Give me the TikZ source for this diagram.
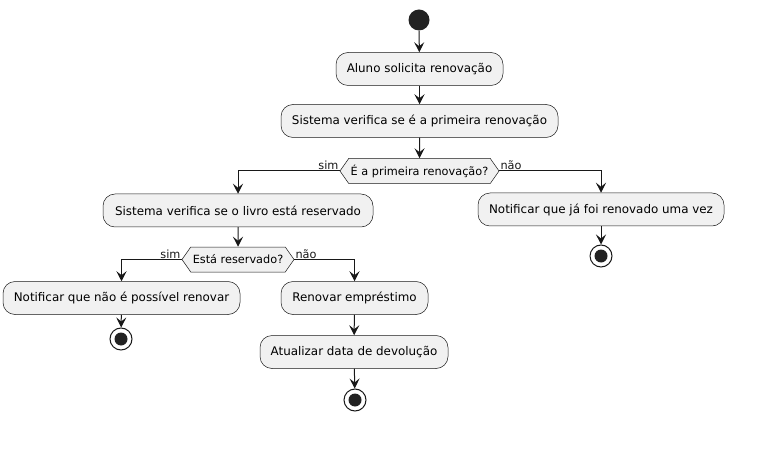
\documentclass[tikz,border=0pt]{standalone}
\usepackage{fontspec}
\setmainfont{DejaVu Sans}
\usetikzlibrary{shapes.symbols,arrows.meta}
\definecolor{boxfill}{HTML}{F1F1F1}
\definecolor{ink}{HTML}{181818}
\definecolor{dot}{HTML}{222222}
\begin{document}
\begin{tikzpicture}[x=1pt,y=-1pt,
  act/.style={draw=ink,fill=boxfill,rounded corners=12pt,line width=0.5pt,minimum height=33pt,inner sep=0pt,font=\fontsize{11.9}{14}\selectfont},
  dec/.style={draw=ink,fill=boxfill,signal,signal to=east and west,signal pointer angle=110,line width=0.5pt,minimum height=25pt,inner xsep=2pt,inner ysep=0pt,font=\fontsize{11.3}{13}\selectfont},
  flow/.style={draw=ink,line width=1pt,-{Stealth[length=10pt,width=10pt,inset=4pt]}},
  lab/.style={font=\fontsize{11.3}{13}\selectfont,inner sep=1pt,text=ink},
  startnode/.style={circle,fill=dot,minimum size=21pt,inner sep=0pt},
  endnode/.style={circle,draw=ink,line width=1pt,fill=white,minimum size=22pt,inner sep=0pt,
    path picture={\fill[dot] (path picture bounding box.center) circle (6.5pt);}}
]
\useasboundingbox (0,0) rectangle (778,454);
\node[startnode] (start) at (419,20) {};
\node[act,minimum width=167pt] (a1) at (419.5,69) {Aluno solicita renovação};
\node[act,minimum width=277pt] (a2) at (419.5,121) {Sistema verifica se é a primeira renovação};
\node[dec,minimum width=157pt] (d1) at (419.5,171) {É a primeira renovação?};
\node[act,minimum width=270pt] (a3) at (238,210.5) {Sistema verifica se o livro está reservado};
\node[act,minimum width=246pt] (a4) at (601,209.5) {Notificar que já foi renovado uma vez};
\node[endnode] (e4) at (601,256) {};
\node[dec,minimum width=112pt] (d2) at (238,259.5) {Está reservado?};
\node[act,minimum width=237pt] (a5) at (121.5,298) {Notificar que não é possível renovar};
\node[endnode] (e5) at (121,339) {};
\node[act,minimum width=147pt] (a6) at (354.5,298) {Renovar empréstimo};
\node[act,minimum width=188pt] (a7) at (354,352) {Atualizar data de devolução};
\node[endnode] (e7) at (355,400) {};

\node[lab,anchor=south east] (l1) at (d1.west) {sim};
\node[lab,anchor=south west] (l2) at (d1.east) {não};
\node[lab,anchor=south east] (l3) at (d2.west) {sim};
\node[lab,anchor=south west] (l4) at (d2.east) {não};

\draw[flow] (start) -- (a1);
\draw[flow] (a1) -- (a2);
\draw[flow] (a2) -- (d1);
\draw[flow] (d1.west) -| (a3.north);
\draw[flow] (d1.east) -| (a4.north);
\draw[flow] (a4) -- (e4);
\draw[flow] (a3) -- (d2);
\draw[flow] (d2.west) -| (a5.north);
\draw[flow] (d2.east) -| (a6.north);
\draw[flow] (a5) -- (e5);
\draw[flow] (a6) -- (a7);
\draw[flow] (a7) -- (e7);
\end{tikzpicture}
\end{document}
